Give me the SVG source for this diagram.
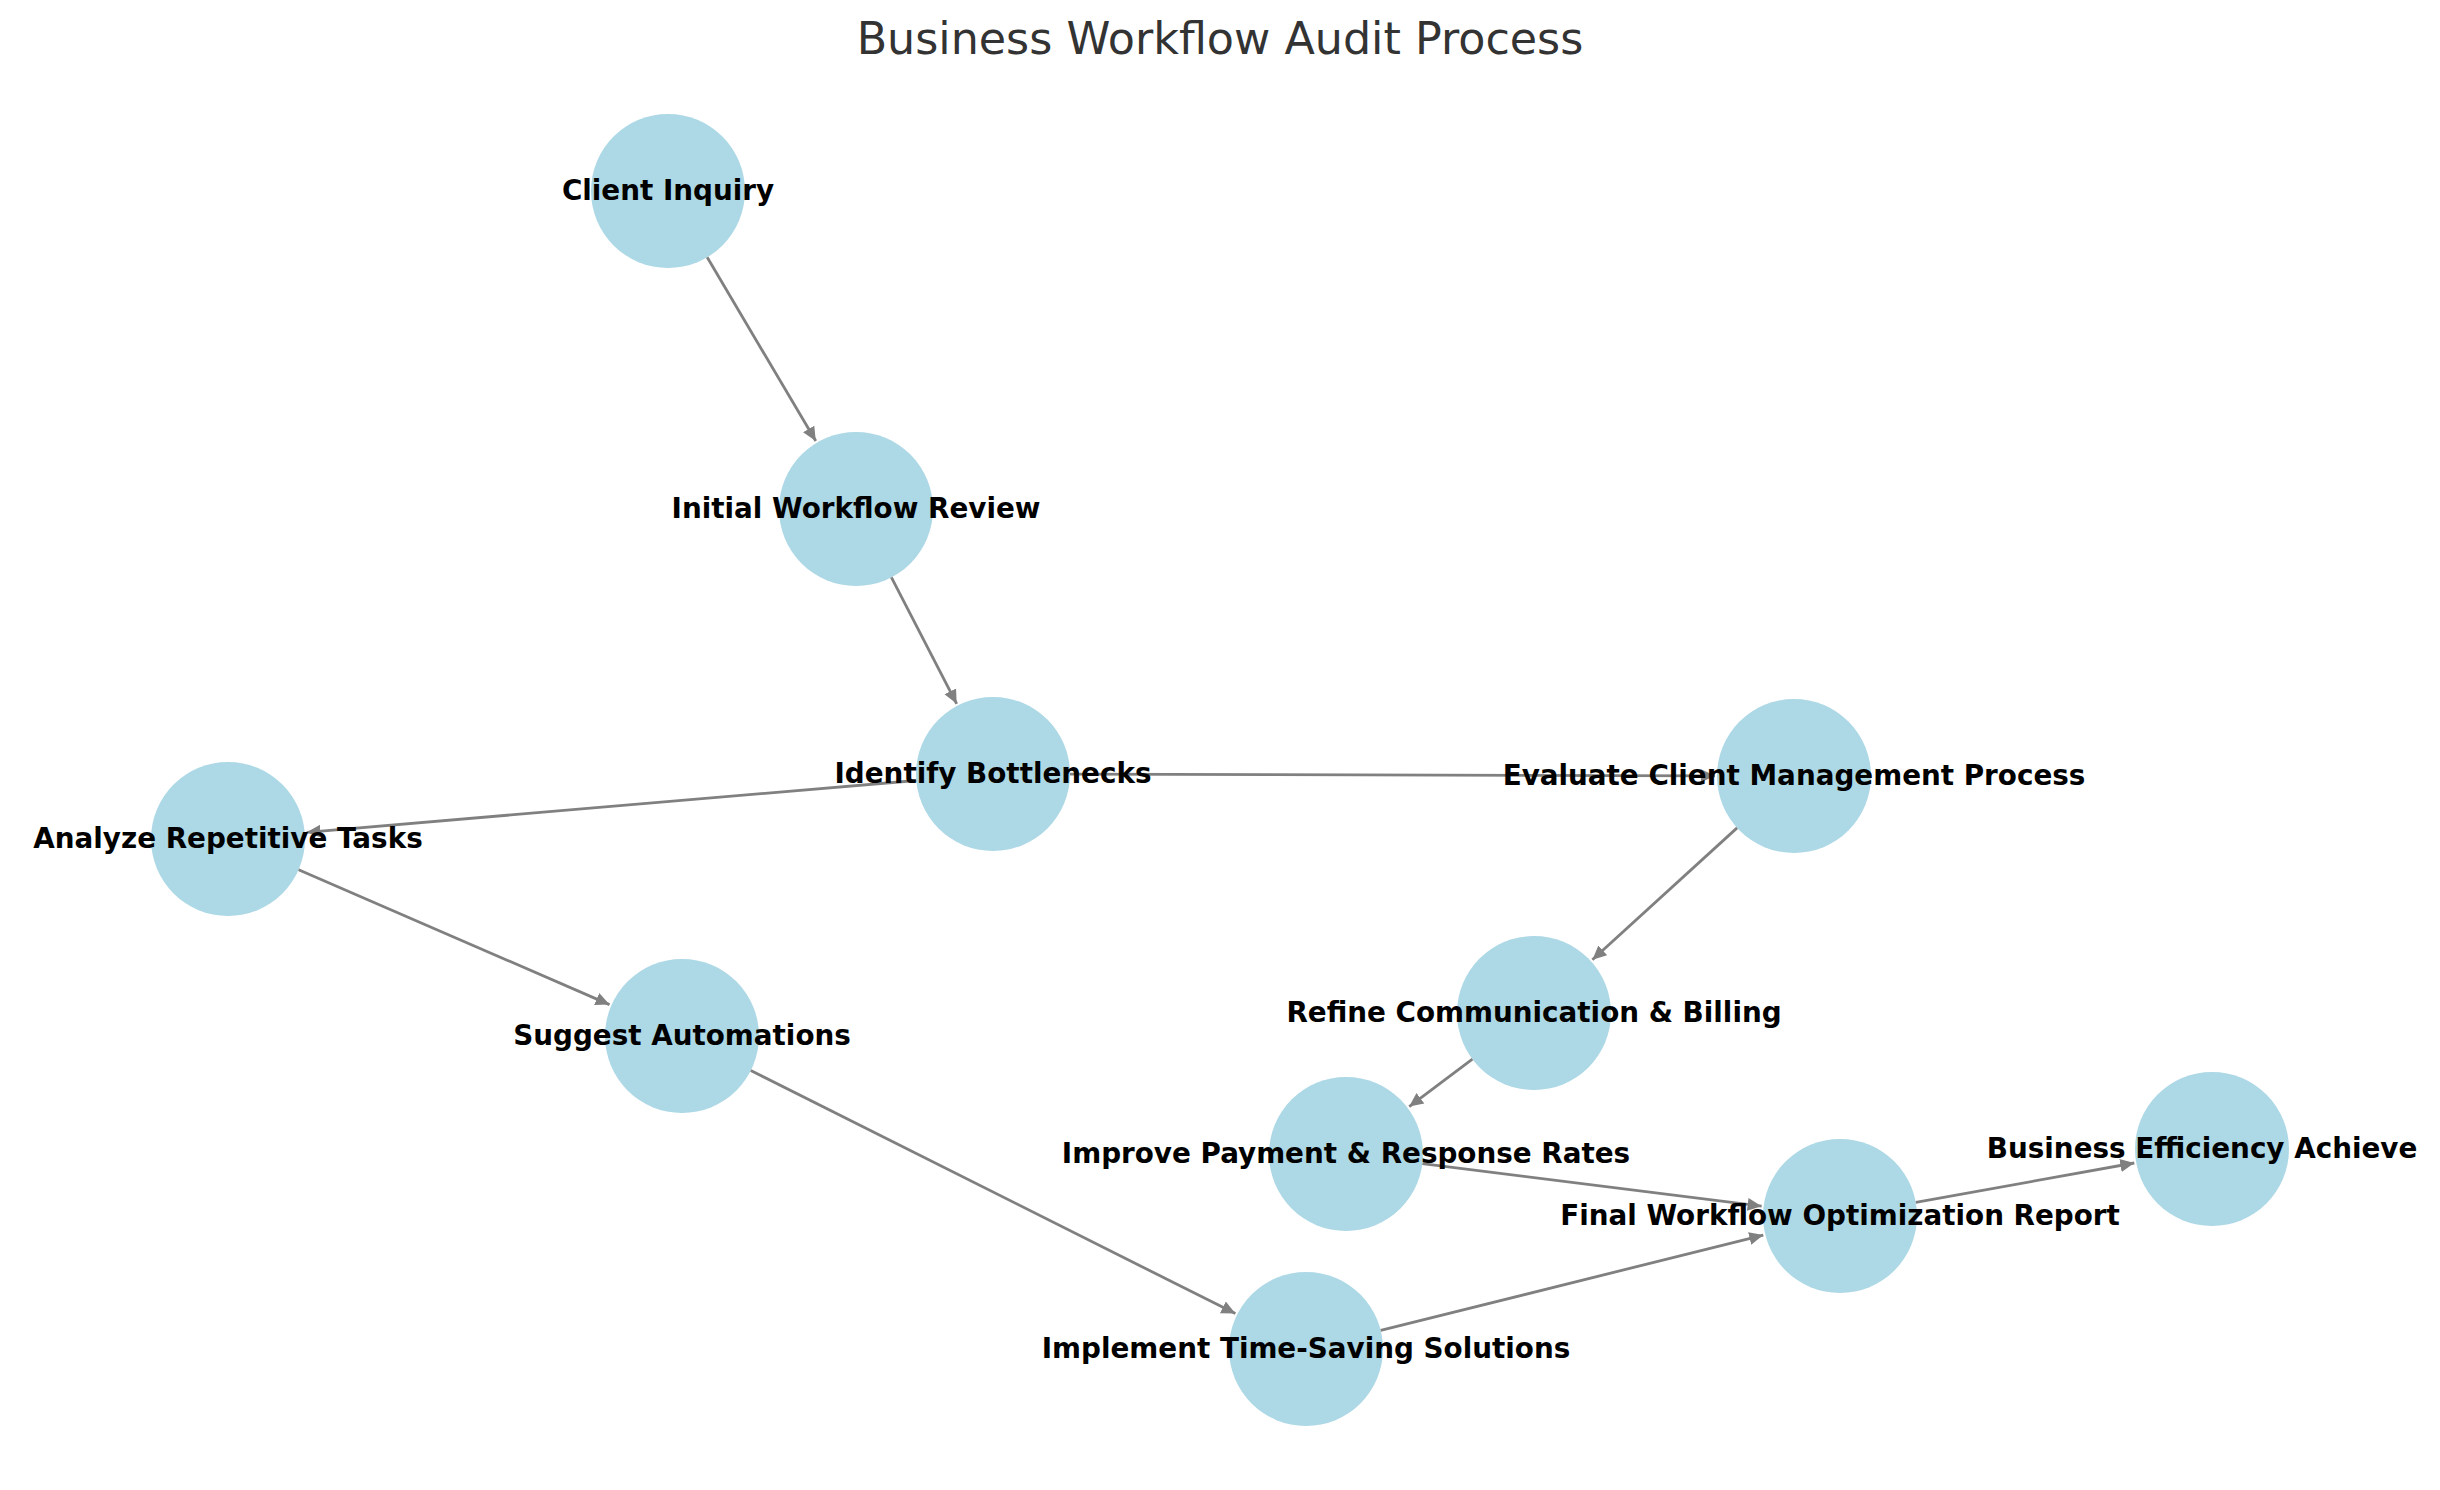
<svg xmlns="http://www.w3.org/2000/svg" width="2440" height="1490" viewBox="0 0 2440 1490">
<style>
.node circle{fill:#ADD8E6;}
.node text{font-family:"DejaVu Sans","Liberation Sans",sans-serif;font-weight:bold;font-size:27.8px;fill:#000;text-anchor:middle;}
.edge{stroke:#808080;stroke-width:2.8;fill:none;marker-end:url(#arr);}
.title{font-family:"DejaVu Sans","Liberation Sans",sans-serif;font-size:44.4px;fill:#333333;text-anchor:middle;}
</style>
<defs>
<marker id="arr" markerUnits="userSpaceOnUse" markerWidth="16" markerHeight="16" viewBox="0 -8 16 16" refX="14" refY="0" orient="auto">
<path d="M0,-6.5 L14,0 L0,6.5 Z" fill="#808080"/>
</marker>
<clipPath id="clipR"><rect x="0" y="0" width="2417" height="1490"/></clipPath>
</defs>
<rect width="2440" height="1490" fill="#ffffff"/>
<text class="title" x="1220" y="54">Business Workflow Audit Process</text>
<g id="nodes-circles">
<g id="n1" class="node"><circle cx="668" cy="191" r="77"/></g>
<g id="n2" class="node"><circle cx="856" cy="509" r="77"/></g>
<g id="n3" class="node"><circle cx="993" cy="774" r="77"/></g>
<g id="n4" class="node"><circle cx="1794" cy="776" r="77"/></g>
<g id="n5" class="node"><circle cx="228" cy="839" r="77"/></g>
<g id="n6" class="node"><circle cx="682" cy="1036" r="77"/></g>
<g id="n7" class="node"><circle cx="1534" cy="1013" r="77"/></g>
<g id="n8" class="node"><circle cx="1346" cy="1154" r="77"/></g>
<g id="n9" class="node"><circle cx="1840" cy="1216" r="77"/></g>
<g id="n10" class="node"><circle cx="2212" cy="1149" r="77"/></g>
<g id="n11" class="node"><circle cx="1306" cy="1349" r="77"/></g>
</g>
<g id="connectors">
<line class="edge" x1="707.2" y1="257.3" x2="815.8" y2="441.0"/>
<line class="edge" x1="891.4" y1="577.4" x2="956.7" y2="703.8"/>
<line class="edge" x1="916.3" y1="780.5" x2="306.7" y2="832.3"/>
<line class="edge" x1="1070" y1="774.2" x2="1715" y2="775.8"/>
<line class="edge" x1="298.6" y1="869.7" x2="609.5" y2="1004.6"/>
<line class="edge" x1="750.8" y1="1070.5" x2="1235.4" y2="1313.6"/>
<line class="edge" x1="1737.1" y1="827.9" x2="1592.4" y2="959.8"/>
<line class="edge" x1="1472.4" y1="1059.2" x2="1409.2" y2="1106.6"/>
<line class="edge" x1="1422.4" y1="1163.6" x2="1761.6" y2="1206.2"/>
<line class="edge" x1="1380.7" y1="1330.4" x2="1763.3" y2="1235.1"/>
<line class="edge" x1="1915.8" y1="1202.4" x2="2134.3" y2="1163"/>
</g>
<g id="labels">
<g id="l1" class="node"><text x="668" y="199.5">Client Inquiry</text></g>
<g id="l2" class="node"><text x="856" y="517.5">Initial Workflow Review</text></g>
<g id="l3" class="node"><text x="993" y="782.5">Identify Bottlenecks</text></g>
<g id="l4" class="node"><text x="1794" y="784.5">Evaluate Client Management Process</text></g>
<g id="l5" class="node"><text x="228" y="847.5">Analyze Repetitive Tasks</text></g>
<g id="l6" class="node"><text x="682" y="1044.5">Suggest Automations</text></g>
<g id="l7" class="node"><text x="1534" y="1021.5">Refine Communication &amp; Billing</text></g>
<g id="l8" class="node"><text x="1346" y="1162.5">Improve Payment &amp; Response Rates</text></g>
<g id="l9" class="node"><text x="1840" y="1224.5">Final Workflow Optimization Report</text></g>
<g id="l10" class="node"><text x="2212" y="1157.5" clip-path="url(#clipR)">Business Efficiency Achieved</text></g>
<g id="l11" class="node"><text x="1306" y="1357.5">Implement Time-Saving Solutions</text></g>
</g>
</svg>
